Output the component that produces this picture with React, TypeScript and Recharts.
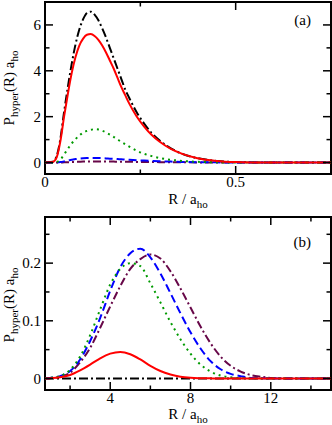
import React from 'react';
import { LineChart, Line, XAxis, YAxis, ReferenceArea } from 'recharts';

// --- panel (a): small R ---
const rA = [0, 0.02, 0.03, 0.04, 0.05, 0.06, 0.07, 0.08, 0.09, 0.1, 0.11, 0.12, 0.13, 0.14, 0.15, 0.16, 0.17, 0.18, 0.19, 0.2, 0.21, 0.22, 0.24, 0.26, 0.28, 0.3, 0.33, 0.36, 0.4, 0.45, 0.5, 0.55, 0.6, 0.65, 0.7, 0.75];
const blackA = [0, 0.03, 0.25, 1.0, 2.2, 3.3, 4.3, 5.15, 5.8, 6.25, 6.52, 6.58, 6.45, 6.2, 5.85, 5.45, 5.0, 4.55, 4.1, 3.65, 3.2, 2.85, 2.2, 1.7, 1.28, 0.97, 0.62, 0.38, 0.19, 0.07, 0.02, 0.005, 0, 0, 0, 0];
const redA = [0, 0.02, 0.2, 0.9, 2.0, 3.0, 3.9, 4.6, 5.1, 5.4, 5.57, 5.6, 5.52, 5.35, 5.1, 4.8, 4.45, 4.1, 3.7, 3.3, 2.95, 2.6, 2.02, 1.57, 1.2, 0.92, 0.6, 0.38, 0.19, 0.07, 0.02, 0.005, 0, 0, 0, 0];
const greenA = [0, 0, 0.02, 0.12, 0.35, 0.6, 0.83, 1.02, 1.18, 1.3, 1.38, 1.43, 1.45, 1.44, 1.39, 1.31, 1.22, 1.12, 1.01, 0.9, 0.8, 0.7, 0.52, 0.38, 0.28, 0.2, 0.12, 0.07, 0.03, 0.01, 0, 0, 0, 0, 0, 0];
const blueA = [0, 0, 0.005, 0.02, 0.05, 0.09, 0.12, 0.15, 0.17, 0.185, 0.195, 0.2, 0.2, 0.195, 0.19, 0.18, 0.17, 0.16, 0.15, 0.14, 0.13, 0.12, 0.1, 0.085, 0.07, 0.055, 0.04, 0.028, 0.016, 0.008, 0.003, 0.001, 0, 0, 0, 0];
const maroonA = [0, 0, 0, 0.003, 0.008, 0.015, 0.022, 0.03, 0.035, 0.04, 0.043, 0.045, 0.046, 0.046, 0.045, 0.044, 0.042, 0.04, 0.038, 0.036, 0.034, 0.032, 0.028, 0.024, 0.02, 0.017, 0.013, 0.01, 0.006, 0.003, 0.001, 0, 0, 0, 0, 0];

// --- panel (b): large R ---
const rB = [0.75, 1, 1.5, 2, 2.5, 3, 3.5, 4, 4.5, 5, 5.5, 6, 6.5, 7, 7.5, 8, 8.5, 9, 9.5, 10, 10.5, 11, 11.5, 12, 13, 14, 15];
const blackB = [0, 0, 0, 0, 0, 0, 0, 0, 0, 0, 0, 0, 0, 0, 0, 0, 0, 0, 0, 0, 0, 0, 0, 0, 0, 0, 0];
const redB = [0, 0.0005, 0.002, 0.006, 0.014, 0.024, 0.035, 0.043, 0.046, 0.042, 0.033, 0.022, 0.013, 0.007, 0.003, 0.0012, 0.0005, 0.0002, 0, 0, 0, 0, 0, 0, 0, 0, 0];
const greenB = [0, 0.001, 0.004, 0.015, 0.038, 0.075, 0.12, 0.163, 0.19, 0.2, 0.195, 0.165, 0.132, 0.098, 0.068, 0.043, 0.024, 0.012, 0.005, 0.002, 0.0005, 0, 0, 0, 0, 0, 0];
const blueB = [0, 0.001, 0.004, 0.013, 0.033, 0.065, 0.105, 0.152, 0.193, 0.217, 0.225, 0.21, 0.182, 0.148, 0.113, 0.08, 0.052, 0.03, 0.016, 0.008, 0.004, 0.001, 0.0003, 0, 0, 0, 0];
const maroonB = [0, 0.0005, 0.003, 0.01, 0.028, 0.053, 0.088, 0.125, 0.16, 0.19, 0.207, 0.215, 0.208, 0.186, 0.156, 0.123, 0.09, 0.061, 0.038, 0.022, 0.012, 0.006, 0.003, 0.001, 0, 0, 0];

// ticks
const xTicksA = [0, 0.25, 0.5];
const xMajorA = [0, 0.5];
const yTicksA = [0, 1, 2, 3, 4, 5, 6];
const yMajorA = [0, 2, 4, 6];
const xTicksB = [2, 4, 6, 8, 10, 12, 14];
const xMajorB = [4, 8, 12];
const yTicksB = [0, 0.05, 0.1, 0.15, 0.2, 0.25];
const yMajorB = [0, 0.1, 0.2];

const SERIF = "'Liberation Serif', 'Times New Roman', 'DejaVu Serif', serif";
const txt = { fontFamily: SERIF };

const SERIES = [
  { key: 'black', stroke: '#000000', dash: '9 3 2 3' },
  { key: 'maroon', stroke: '#670748', dash: '8 3 2 3' },
  { key: 'blue', stroke: '#0000ff', dash: '8 4' },
  { key: 'green', stroke: '#009a00', dash: '2 4' },
  { key: 'red', stroke: '#ff0000', dash: undefined },
];

const makeRows = (r: number[], black: number[], red: number[], green: number[], blue: number[], maroon: number[]) =>
  r.map((x, i) => ({ r: x, black: black[i], red: red[i], green: green[i], blue: blue[i], maroon: maroon[i] }));

const rowsA = makeRows(rA, blackA, redA, greenA, blueA, maroonA);
const rowsB = makeRows(rB, blackB, redB, greenB, blueB, maroonB);

// inward ticks on bottom + mirrored on top
function xTick(major: number[], plotH: number) {
  return (props: any) => {
    const { x, y, payload } = props;
    const isMajor = major.includes(payload.value);
    const len = isMajor ? 8 : 4.5;
    return (
      <g>
        <line x1={x} y1={y} x2={x} y2={y - len} stroke="#000" strokeWidth={1.5} />
        <line x1={x} y1={y - plotH} x2={x} y2={y - plotH + len} stroke="#000" strokeWidth={1.5} />
        {isMajor && (
          <text x={x} y={y + 13} textAnchor="middle" style={txt} fontSize={15} fill="#000">
            {String(payload.value)}
          </text>
        )}
      </g>
    );
  };
}

// inward ticks on left + mirrored on right
function yTick(major: number[], plotW: number) {
  return (props: any) => {
    const { x, y, payload } = props;
    const isMajor = major.includes(payload.value);
    const len = isMajor ? 8 : 4.5;
    return (
      <g>
        <line x1={x} y1={y} x2={x + len} y2={y} stroke="#000" strokeWidth={1.5} />
        <line x1={x + plotW} y1={y} x2={x + plotW - len} y2={y} stroke="#000" strokeWidth={1.5} />
        {isMajor && (
          <text x={x - 4} y={y} dy="0.35em" textAnchor="end" style={txt} fontSize={15} fill="#000">
            {String(payload.value)}
          </text>
        )}
      </g>
    );
  };
}

type PanelProps = {
  rows: any[];
  height: number;
  top: number;
  xAxisH: number;
  xDomain: [number, number];
  yDomain: [number, number];
  xTicks: number[];
  xMajor: number[];
  yTicks: number[];
  yMajor: number[];
  tag: string;
  tagY: number;
  xLabelY: number;
  yLabelY: number;
};

function Panel(p: PanelProps) {
  const W = 332;
  const yAxisW = 45;
  const right = 1;
  const plotW = W - yAxisW - right;
  const plotH = p.height - p.top - p.xAxisH;
  const fs = 15;
  return (
    <div style={{ position: 'relative', width: W, height: p.height }}>
      <LineChart width={W} height={p.height} data={p.rows} margin={{ top: p.top, right, left: 0, bottom: 0 }}>
        <XAxis
          dataKey="r"
          type="number"
          domain={p.xDomain}
          ticks={p.xTicks}
          interval={0}
          height={p.xAxisH}
          axisLine={false}
          tickLine={false}
          tickSize={0}
          tickMargin={0}
          allowDataOverflow
          tick={xTick(p.xMajor, plotH)}
        />
        <YAxis
          type="number"
          domain={p.yDomain}
          ticks={p.yTicks}
          interval={0}
          width={yAxisW}
          axisLine={false}
          tickLine={false}
          tickSize={0}
          tickMargin={0}
          allowDataOverflow
          tick={yTick(p.yMajor, plotW)}
        />
        <ReferenceArea
          x1={p.xDomain[0]}
          x2={p.xDomain[1]}
          y1={p.yDomain[0]}
          y2={p.yDomain[1]}
          fill="none"
          stroke="#000"
          strokeWidth={2}
          ifOverflow="visible"
        />
        {SERIES.map((s) => (
          <Line
            key={s.key}
            dataKey={s.key}
            type="monotone"
            stroke={s.stroke}
            strokeWidth={2}
            strokeDasharray={s.dash}
            dot={false}
            activeDot={false}
            isAnimationActive={false}
          />
        ))}
      </LineChart>
      <svg width={W} height={p.height} style={{ position: 'absolute', left: 0, top: 0, pointerEvents: 'none' }}>
        <text x={311} y={p.tagY} textAnchor="end" style={txt} fontSize={fs}>
          {p.tag}
        </text>
        <text x={188} y={p.xLabelY} textAnchor="middle" style={txt} fontSize={fs}>
          R / a<tspan dy={4} fontSize={11}>ho</tspan>
        </text>
        <g transform={`translate(14 ${p.yLabelY}) rotate(-90)`}>
          <text x={0} y={0} textAnchor="middle" style={txt} fontSize={fs}>
            P<tspan dy={4} fontSize={11}>hyper</tspan>
            <tspan dy={-4}>(R) a</tspan>
            <tspan dy={4} fontSize={11}>ho</tspan>
          </text>
        </g>
      </svg>
    </div>
  );
}

export default function App() {
  return (
    <div style={{ position: 'absolute', left: 0, top: 0, width: 332, height: 425, background: '#fff' }}>
      <Panel
        rows={rowsA}
        height={212}
        top={2}
        xAxisH={38}
        xDomain={[0, 0.75]}
        yDomain={[-0.5, 7]}
        xTicks={xTicksA}
        xMajor={xMajorA}
        yTicks={yTicksA}
        yMajor={yMajorA}
        tag="(a)"
        tagY={25}
        xLabelY={204}
        yLabelY={88}
      />
      <Panel
        rows={rowsB}
        height={213}
        top={5}
        xAxisH={35}
        xDomain={[0.75, 15]}
        yDomain={[-0.02, 0.28]}
        xTicks={xTicksB}
        xMajor={xMajorB}
        yTicks={yTicksB}
        yMajor={yMajorB}
        tag="(b)"
        tagY={35}
        xLabelY={207}
        yLabelY={93}
      />
    </div>
  );
}
